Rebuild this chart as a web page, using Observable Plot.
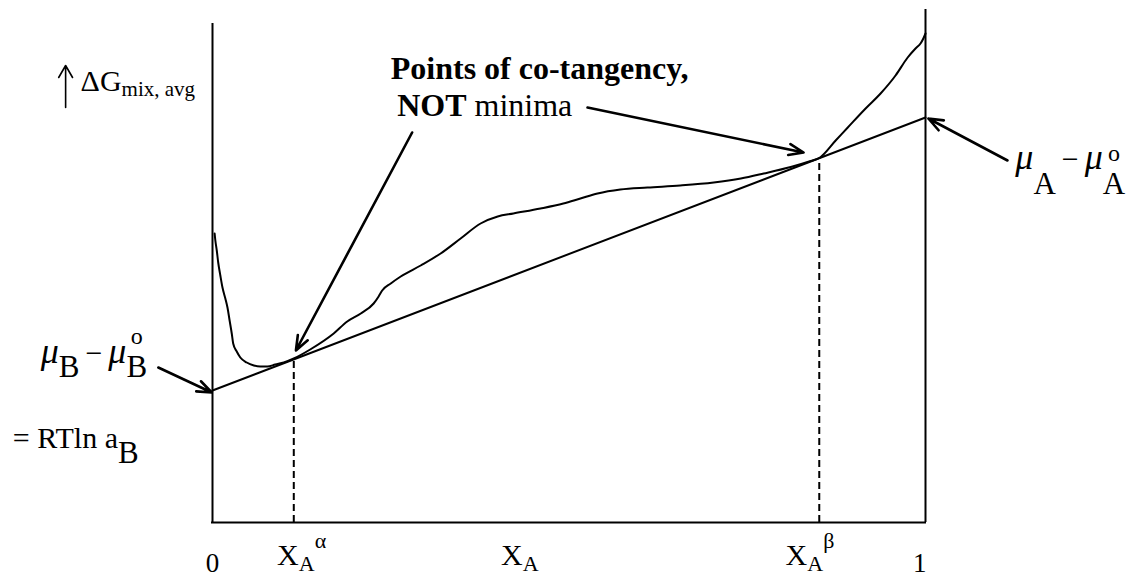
<!DOCTYPE html>
<html>
<head>
<meta charset="utf-8">
<script src="https://cdn.jsdelivr.net/npm/d3@7"></script>
<script src="https://cdn.jsdelivr.net/npm/@observablehq/plot@0.6"></script>
<style>
  html, body { margin: 0; padding: 0; background: #fff; }
  svg { display: block; }
</style>
</head>
<body>
<div id="chart"></div>
<script>
// ---- Data (X_A fraction, ΔG in arbitrary units) ----
const curveX = [0.003, 0.004, 0.006, 0.008, 0.011, 0.014, 0.018, 0.021, 0.024, 0.027, 0.029, 0.034, 0.039, 0.048, 0.058, 0.067, 0.077, 0.088, 0.100, 0.114, 0.137, 0.170, 0.189, 0.208, 0.226, 0.233, 0.238, 0.250, 0.264, 0.292, 0.320, 0.348, 0.376, 0.400, 0.422, 0.460, 0.492, 0.516, 0.540, 0.572, 0.610, 0.656, 0.703, 0.741, 0.773, 0.811, 0.839, 0.851, 0.874, 0.891, 0.916, 0.937, 0.958, 0.975, 0.986, 0.993, 0.997, 1.000];
const curveG = [2.89, 2.82, 2.72, 2.60, 2.47, 2.35, 2.24, 2.15, 2.02, 1.89, 1.79, 1.71, 1.65, 1.60, 1.57, 1.56, 1.56, 1.58, 1.60, 1.64, 1.73, 1.89, 2.01, 2.09, 2.19, 2.26, 2.32, 2.39, 2.46, 2.57, 2.69, 2.84, 2.99, 3.06, 3.09, 3.14, 3.19, 3.24, 3.29, 3.33, 3.35, 3.37, 3.40, 3.44, 3.49, 3.555, 3.615, 3.645, 3.82, 3.95, 4.14, 4.29, 4.47, 4.65, 4.74, 4.79, 4.84, 4.89];
const tangentX = [0, 1];
const tangentG = [1.32, 4.05];
const tangencyX = [0.114, 0.851];           // X_A^α, X_A^β
const axisTopLeft = 4.99, axisTopRight = 5.13;

const tickLabels = ["0", "X_{A}^{α}", "X_{A}", "X_{A}^{β}", "1"];
const tickLabelX = [0, 0.125, 0.431, 0.838, 0.992];

const noteTexts = ["Points of co-tangency,", "!{NOT} minima"];
const yLabel = "ΔG_{mix, avg}";
const muBText = "*{μ}_{B}\u2009−\u2009*{μ}_{B}@{o}";
const rtText = "= RTln a_{B}";
const muAText = "*{μ}_{A}\u2009−\u2009*{μ}_{A}@{o}";

// ---- Derived values ----
const curve = curveX.map((x, i) => ({x, g: curveG[i]}));
const tangent = tangentX.map((x, i) => ({x, g: tangentG[i]}));
const lineAt = (x) => tangentG[0] + (tangentG[1] - tangentG[0]) * x;
const dashes = tangencyX.map((x) => ({x, g1: 0, g2: lineAt(x)}));
const ticks = tickLabels.map((t, i) => ({x: tickLabelX[i], t}));
const isDigit = (t) => /^\d$/.test(t);
const digitTicks = ticks.filter((d) => isDigit(d.t));
const symbolTicks = ticks.filter((d) => !isDigit(d.t));

// ---- Annotation layout (data coordinates) ----
const arrows = [
  {x1: 0.280, y1: 3.90, x2: 0.117, y2: 1.72},
  {x1: 0.526, y1: 4.15, x2: 0.829, y2: 3.70},
  {x1: 1.115, y1: 3.62, x2: 1.004, y2: 4.04},
  {x1: -0.076, y1: 1.55, x2: -0.001, y2: 1.30}
];
const yArrow = [{x1: -0.206, y1: 4.15, x2: -0.206, y2: 4.57}];

const font = "'Liberation Serif', 'Times New Roman', serif";
const k = {stroke: "black", strokeWidth: 2};

const chart = Plot.plot({
  width: 1134, height: 576,
  marginLeft: 212, marginRight: 209, marginTop: 9, marginBottom: 54,
  x: {domain: [0, 1], axis: null},
  y: {domain: [0, 5.13], axis: null},
  style: {background: "white", fontFamily: font, color: "black"},
  marks: [
    Plot.ruleX([0], {y1: 0, y2: axisTopLeft, ...k}),
    Plot.ruleX([1], {y1: 0, y2: axisTopRight, ...k}),
    Plot.ruleY([0], {x1: 0, x2: 1, ...k, strokeLinecap: "square"}),
    Plot.ruleX(dashes, {x: "x", y1: "g1", y2: "g2", ...k, strokeDasharray: "7,4"}),
    Plot.line(tangent, {x: "x", y: "g", ...k}),
    Plot.line(curve, {x: "x", y: "g", ...k, curve: "monotone-x"}),
    Plot.arrow(arrows, {x1: "x1", y1: "y1", x2: "x2", y2: "y2", stroke: "black", strokeWidth: 2.6, headLength: 9, headAngle: 42}),
    Plot.arrow(yArrow, {x1: "x1", y1: "y1", x2: "x2", y2: "y2", stroke: "black", strokeWidth: 1.6, headLength: 13, headAngle: 60}),
    Plot.text(digitTicks, {x: "x", y: 0, text: "t", dy: 49, textAnchor: "middle", lineAnchor: "bottom", fontSize: 27}),
    Plot.text(symbolTicks, {x: "x", y: 0, text: "t", dy: 42, textAnchor: "middle", lineAnchor: "bottom", fontSize: 30}),
    Plot.text([noteTexts[0]], {x: 0.250, y: 4.44, text: (d) => d, textAnchor: "start", lineAnchor: "bottom", fontSize: 32, fontWeight: "bold"}),
    Plot.text([noteTexts[1]], {x: 0.259, y: 4.07, text: (d) => d, textAnchor: "start", lineAnchor: "bottom", fontSize: 32}),
    Plot.text([yLabel], {x: -0.185, y: 4.32, text: (d) => d, textAnchor: "start", lineAnchor: "bottom", fontSize: 30}),
    Plot.text([muBText], {x: -0.241, y: 1.60, text: (d) => d, textAnchor: "start", lineAnchor: "bottom", fontSize: 30}),
    Plot.text([rtText], {x: -0.280, y: 0.75, text: (d) => d, textAnchor: "start", lineAnchor: "bottom", fontSize: 30}),
    Plot.text([muAText], {x: 1.126, y: 3.54, text: (d) => d, textAnchor: "start", lineAnchor: "bottom", fontSize: 30})
  ]
});
document.getElementById("chart").append(chart);

// ---- Rich text: _{sub} ^{sup} @{stacked sup over previous} *{italic} !{bold} ----
const richGroups = [
  {texts: tickLabels.filter((t) => !isDigit(t)), o: {size: 30, subSize: 22, subDy: 6, supSize: 22, supDy: -17}},
  {texts: noteTexts, o: {size: 32}},
  {texts: [yLabel], o: {size: 30, subSize: 21, subDy: 5}},
  {texts: [muBText], o: {size: 30, italicSize: 36, subSize: 31, subDy: 14, supSize: 24, overDy: -19}},
  {texts: [rtText], o: {size: 30, subSize: 31, subDy: 15}},
  {texts: [muAText], o: {size: 30, italicSize: 36, subSize: 31, subDy: 25, supSize: 24, overDy: -8}}
];
const richMap = new Map();
for (const g of richGroups) for (const t of g.texts) richMap.set(t, g.o);

function parseRich(s) {
  const segs = []; let buf = ""; let i = 0;
  while (i < s.length) {
    const c = s[i];
    if ("_^@*!".includes(c) && s[i + 1] === "{") {
      if (buf) { segs.push({kind: "n", t: buf}); buf = ""; }
      const j = s.indexOf("}", i + 2);
      segs.push({kind: c, t: s.slice(i + 2, j)});
      i = j + 1;
    } else { buf += c; i++; }
  }
  if (buf) segs.push({kind: "n", t: buf});
  return segs;
}
const NS = "http://www.w3.org/2000/svg";
d3.select(chart).selectAll("text").each(function () {
  const o = richMap.get(this.textContent);
  if (!o) return;
  const segs = parseRich(this.textContent);
  this.textContent = "";
  let cur = 0, prev = null;
  for (const sg of segs) {
    const ts = document.createElementNS(NS, "tspan");
    ts.textContent = sg.t;
    let target = 0, size = o.size;
    if (sg.kind === "_") { target = o.subDy; size = o.subSize; }
    else if (sg.kind === "^") { target = o.supDy; size = o.supSize; }
    else if (sg.kind === "@") { target = o.overDy; size = o.supSize; }
    else if (sg.kind === "*") { size = o.italicSize || o.size; ts.setAttribute("font-style", "italic"); }
    if (sg.kind === "!") ts.setAttribute("font-weight", "bold");
    ts.setAttribute("font-size", size);
    ts.setAttribute("dy", target - cur);
    cur = target;
    this.appendChild(ts);
    if (sg.kind === "@" && prev) {
      const w = prev.getComputedTextLength();
      const wo = ts.getComputedTextLength();
      ts.setAttribute("dx", -(w + wo) / 2);
    }
    prev = ts;
  }
});
</script>
</body>
</html>
